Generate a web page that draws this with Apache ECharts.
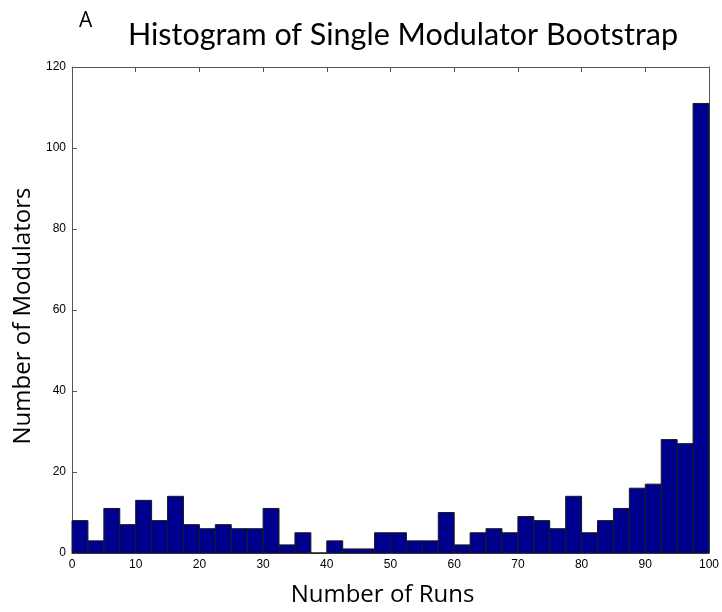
<!DOCTYPE html>
<html>
<head>
<meta charset="utf-8">
<script src="https://cdn.jsdelivr.net/npm/echarts@6/dist/echarts.min.js"></script>
<style>
  html, body { margin: 0; padding: 0; background: #fff; }
  #chart { width: 722px; height: 612px; }
</style>
</head>
<body>
<div id="chart"></div>
<script>
// histogram counts, 40 bins of width 2.5 from 0 to 100
var binWidth = 2.5;
var counts = [8, 3, 11, 7, 13, 8, 14, 7, 6, 7,
              6, 6, 11, 2, 5, 0, 3, 1, 1, 5,
              5, 3, 3, 10, 2, 5, 6, 5, 9, 8,
              6, 14, 5, 8, 11, 16, 17, 28, 27, 111];
var xTicks = [0, 10, 20, 30, 40, 50, 60, 70, 80, 90, 100];
var yTicks = [0, 20, 40, 60, 80, 100, 120];

var bars = counts.map(function (c, i) { return [i * binWidth, (i + 1) * binWidth, c]; });

var chart = echarts.init(document.getElementById('chart'));
var tickFont = { fontFamily: 'Liberation Sans', fontSize: 12, color: '#000' };
var axisLineStyle = { color: '#555', width: 1 };

chart.setOption({
    animation: false,
    title: [
        { text: 'Histogram of Single Modulator Bootstrap', left: 398, top: 15, textAlign: 'center',
          textStyle: { fontFamily: 'Lato', fontSize: 30.5, fontWeight: 'normal', color: '#000' } },
        { text: 'A', left: 74, top: 6,
          textStyle: { fontFamily: 'Open Sans', fontSize: 21, fontWeight: 'normal', color: '#000' } }
    ],
    grid: { left: 72, right: 13, top: 67, bottom: 56 },
    xAxis: [
        { type: 'value', min: xTicks[0], max: xTicks[xTicks.length - 1], interval: 10,
          name: 'Number of Runs', nameLocation: 'middle', nameGap: 30,
          nameTextStyle: { fontFamily: 'Open Sans', fontSize: 24, color: '#000', padding: [0, 16, 0, 0] },
          axisLine: { show: true, onZero: false, lineStyle: axisLineStyle },
          axisTick: { show: true, inside: true, length: 5, lineStyle: axisLineStyle },
          axisLabel: Object.assign({ margin: 6 }, tickFont),
          splitLine: { show: false } },
        { type: 'value', position: 'top', min: 0, max: 100, interval: 10,
          axisLine: { show: true, onZero: false, lineStyle: axisLineStyle },
          axisTick: { show: true, inside: true, length: 5, lineStyle: axisLineStyle },
          axisLabel: { show: false }, splitLine: { show: false } }
    ],
    yAxis: [
        { type: 'value', min: yTicks[0], max: yTicks[yTicks.length - 1], interval: 20,
          name: 'Number of Modulators', nameLocation: 'middle', nameGap: 18,
          nameTextStyle: { fontFamily: 'Open Sans', fontSize: 24, color: '#000', padding: [0, 12, 0, 0] },
          axisLine: { show: true, onZero: false, lineStyle: axisLineStyle },
          axisTick: { show: true, inside: true, length: 5, lineStyle: axisLineStyle },
          axisLabel: Object.assign({ margin: 6 }, tickFont),
          splitLine: { show: false } },
        { type: 'value', position: 'right', min: 0, max: 120, interval: 20,
          axisLine: { show: true, onZero: false, lineStyle: axisLineStyle },
          axisTick: { show: true, inside: true, length: 5, lineStyle: axisLineStyle },
          axisLabel: { show: false }, splitLine: { show: false } }
    ],
    series: [{
        type: 'custom',
        xAxisIndex: 0,
        yAxisIndex: 0,
        data: bars,
        renderItem: function (params, api) {
            var p0 = api.coord([api.value(0), 0]);
            var p1 = api.coord([api.value(1), api.value(2)]);
            return {
                type: 'rect',
                shape: { x: p0[0], y: p1[1], width: p1[0] - p0[0], height: p0[1] - p1[1] },
                style: { fill: '#00008f', stroke: '#1a1a1a', lineWidth: 1 }
            };
        }
    }]
});
</script>
</body>
</html>
